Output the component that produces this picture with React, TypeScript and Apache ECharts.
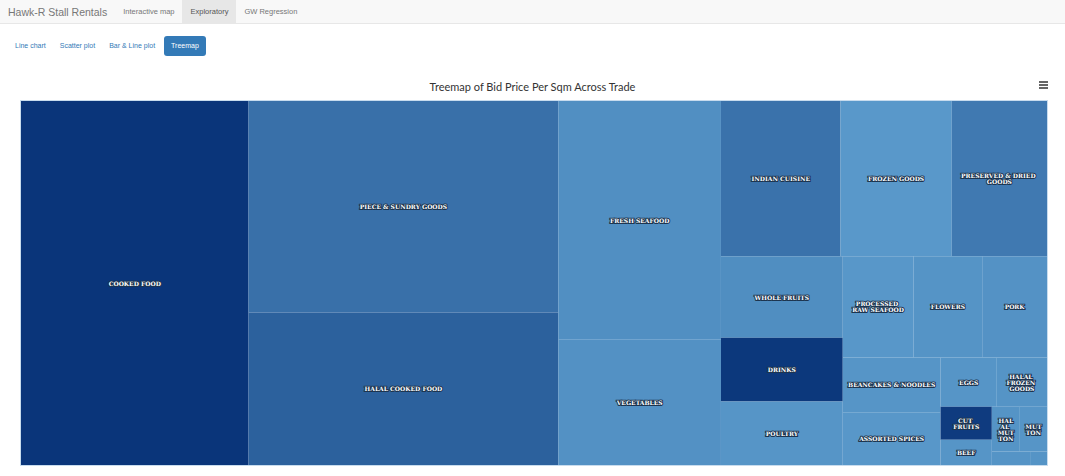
import { useRef, useEffect } from 'react';
import * as echarts from 'echarts';

const trades = [
  'COOKED FOOD', 'PIECE & SUNDRY GOODS', 'HALAL COOKED FOOD', 'FRESH SEAFOOD', 'VEGETABLES',
  'INDIAN CUISINE', 'FROZEN GOODS', 'PRESERVED & DRIED GOODS', 'WHOLE FRUITS', 'POULTRY',
  'DRINKS', 'PROCESSED RAW SEAFOOD', 'FLOWERS', 'PORK', 'BEANCAKES & NOODLES',
  'ASSORTED SPICES', 'EGGS', 'HALAL FROZEN GOODS', 'CUT FRUITS', 'BEEF',
  'HALAL MUTTON', 'MUTTON', 'HALAL POULTRY', 'FRUITS',
];
const areas = [
  83400, 66000, 47600, 39000, 20600,
  18700, 17400, 14900, 10000, 7800,
  7800, 7200, 7000, 6600, 5400,
  5200, 2800, 2500, 1700, 1300,
  1260, 1220, 520, 230,
];
const bidPrice = [
  10, 6.2, 7.2, 4.2, 4.1,
  6.1, 3.6, 5.6, 4.3, 3.8,
  9.8, 3.7, 3.9, 4.0, 3.8,
  3.7, 3.8, 3.9, 9.6, 3.8,
  3.9, 3.8, 3.9, 3.9,
];

function TreemapChart() {
  const divRef = useRef<HTMLDivElement | null>(null);

  useEffect(() => {
    if (!divRef.current) {
      return;
    }
    const chart = echarts.init(divRef.current, null, { renderer: 'svg' });
    chart.setOption({
      animation: false,
      title: {
        text: 'Treemap of Bid Price Per Sqm Across Trade',
        left: 'center',
        top: 11,
        textStyle: { fontSize: 11, fontWeight: 'normal', color: '#333', fontFamily: 'Lato, sans-serif' },
      },
      series: [
        {
          type: 'treemap',
          left: 20,
          right: 17,
          top: 35,
          bottom: 5,
          roam: false,
          nodeClick: false,
          breadcrumb: { show: false },
          sort: 'desc',
          squareRatio: 1.2,
          levels: [
            {
              visualDimension: 1,
              visualMin: 3.5,
              visualMax: 10,
              color: ['#5a9acb', '#0a357a'],
              colorMappingBy: 'value',
              itemStyle: { borderColor: '#c8dcee', borderWidth: 1, gapWidth: 0 },
            },
          ],
          label: {
            show: true,
            position: 'inside',
            align: 'center',
            verticalAlign: 'middle',
            fontSize: 6,
            fontWeight: 'bold',
            color: '#fff',
            textBorderColor: '#1d3550',
            textBorderWidth: 2,
            fontFamily: 'DejaVu Serif, serif',
            overflow: 'break',
            formatter: '{b}',
          },
          upperLabel: { show: false },
          data: trades.map((name, i) => ({ name, value: [areas[i], bidPrice[i]] })),
        },
      ],
    });
    return () => {
      chart.dispose();
    };
  }, []);
  return <div ref={divRef} style={{ width: '1065px', height: '406px' }}></div>;
}

export default function App() {
  useEffect(() => {
    document.body.style.margin = '0';
  }, []);
  const nav = { fontSize: 7.5, color: '#777', padding: '0 8px', lineHeight: '23px', display: 'inline-block' };
  const pill = { fontSize: 7, color: '#337ab7', padding: '0 7px', lineHeight: '20px', display: 'inline-block', borderRadius: 3 };
  return (
    <div style={{ fontFamily: 'Arial, "Liberation Sans", sans-serif', position: 'relative', width: 1065, height: 476, background: '#fff' }}>
      <div style={{ height: 23, background: '#f8f8f8', borderBottom: '1px solid #e7e7e7', display: 'flex', alignItems: 'center' }}>
        <span style={{ fontSize: 10.5, color: '#777', padding: '0 8px 0 8px' }}>Hawk-R Stall Rentals</span>
        <span style={nav}>Interactive map</span>
        <span style={{ ...nav, background: '#e7e7e7', color: '#555' }}>Exploratory</span>
        <span style={nav}>GW Regression</span>
      </div>
      <div style={{ position: 'absolute', top: 34, left: 8 }}>
        <span style={pill}>Line chart</span>
        <span style={pill}>Scatter plot</span>
        <span style={pill}>Bar &amp; Line plot</span>
        <span style={{ ...pill, background: '#337ab7', color: '#fff', marginLeft: 2 }}>Treemap</span>
      </div>
      <div style={{ position: 'absolute', top: 65, left: 0 }}>
        <TreemapChart />
      </div>
      <div style={{ position: 'absolute', top: 81, left: 1039, width: 9 }}>
        {[0, 1, 2].map((k) => (
          <div key={k} style={{ height: 1.5, background: '#666', marginBottom: 1.5 }}></div>
        ))}
      </div>
    </div>
  );
}
